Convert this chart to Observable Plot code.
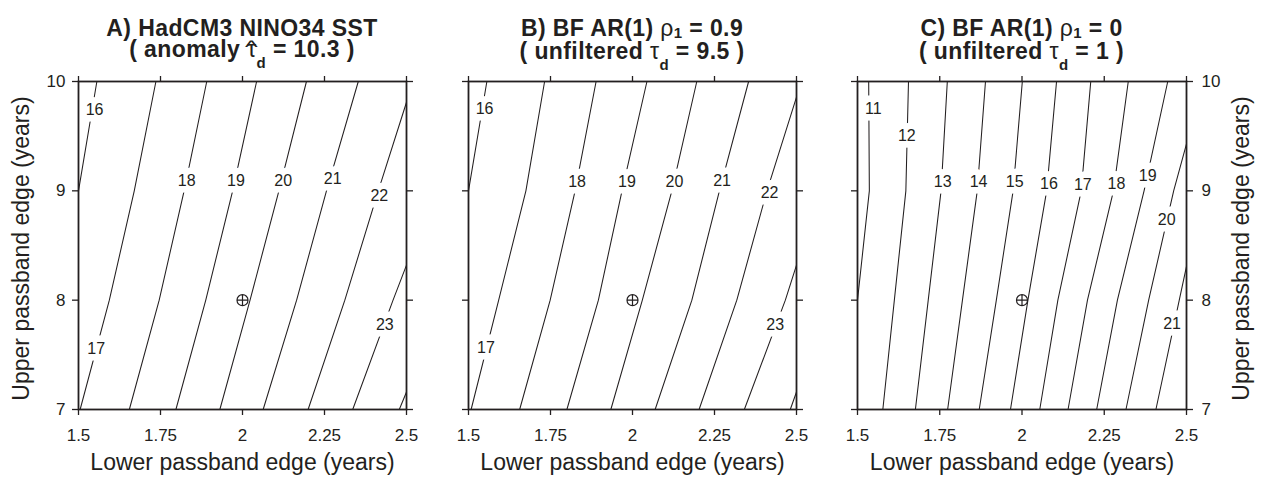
<!DOCTYPE html>
<html><head><meta charset="utf-8">
<script src="https://cdn.jsdelivr.net/npm/d3@7"></script>
<script src="https://cdn.jsdelivr.net/npm/@observablehq/plot@0.6"></script>
<style>
body{margin:0;background:#fff;}
#root{position:relative;width:1261px;height:478px;overflow:hidden;background:#fff;font-family:"Liberation Sans",Arial,sans-serif;color:#231f20;}
.panel{position:absolute;top:0;}
.title{position:absolute;top:17.5px;width:420px;text-align:center;font-weight:bold;font-size:23px;line-height:21px;letter-spacing:0.4px;white-space:nowrap;}
.g{font-weight:normal;}
.hatbox{position:relative;display:inline-block;}
.hatc{position:absolute;left:0;right:0;top:-1px;text-align:center;font-size:18px;line-height:18px;font-weight:normal;transform:scaleX(1.5);}
.sd{font-size:15px;position:relative;top:11px;}
.s1{font-size:15px;position:relative;top:2px;}
</style></head><body><div id="root"></div>
<script>
// ---------- data ----------
const xTicks = [1.5, 1.75, 2, 2.25, 2.5];
const xTickLabels = ["1.5", "1.75", "2", "2.25", "2.5"];
const yTicks = [7, 8, 9, 10];
const yTickLabels = ["7", "8", "9", "10"];
const xTitle = "Lower passband edge (years)";
const yTitle = "Upper passband edge (years)";
const markerX = [2];
const markerY = [8];

// Panel A: HadCM3 NINO34 SST — contour levels and their traced [x, y] points
const levelsA = [16, 17, 18, 19, 20, 21, 22, 23, 24];
const pathsA = [
  [[1.5, 9.0], [1.556, 10]],
  [[1.505, 7], [1.594, 8], [1.670, 9], [1.736, 10]],
  [[1.655, 7], [1.746, 8], [1.822, 9], [1.891, 10]],
  [[1.797, 7], [1.888, 8], [1.970, 9], [2.043, 10]],
  [[1.931, 7], [2.023, 8], [2.111, 9], [2.195, 10]],
  [[2.063, 7], [2.165, 8], [2.256, 9], [2.353, 10]],
  [[2.200, 7], [2.312, 8], [2.414, 9], [2.5, 9.81]],
  [[2.336, 7], [2.459, 8], [2.5, 8.32]],
  [[2.478, 7], [2.5, 7.16]]
];
const labelLevelsA = [16, 17, 18, 19, 20, 21, 22, 23];
const labelXA = [1.549, 1.554, 1.830, 1.980, 2.124, 2.275, 2.417, 2.434];
const labelYA = [9.74, 7.557, 9.089, 9.089, 9.089, 9.111, 8.958, 7.771];

// Panel B: BF AR(1) rho1 = 0.9
const levelsB = [16, 17, 18, 19, 20, 21, 22, 23, 24];
const pathsB = [
  [[1.5, 9.0], [1.556, 10]],
  [[1.508, 7], [1.592, 8], [1.675, 9], [1.732, 10]],
  [[1.656, 7], [1.749, 8], [1.825, 9], [1.889, 10]],
  [[1.800, 7], [1.896, 8], [1.968, 9], [2.044, 10]],
  [[1.934, 7], [2.030, 8], [2.120, 9], [2.196, 10]],
  [[2.069, 7], [2.181, 8], [2.265, 9], [2.354, 10]],
  [[2.203, 7], [2.318, 8], [2.410, 9], [2.5, 9.857]],
  [[2.341, 7], [2.466, 8], [2.5, 8.32]],
  [[2.481, 7], [2.5, 7.16]]
];
const labelLevelsB = [16, 17, 18, 19, 20, 21, 22, 23];
const labelXB = [1.549, 1.553, 1.831, 1.983, 2.128, 2.273, 2.418, 2.435];
const labelYB = [9.75, 7.56, 9.086, 9.086, 9.086, 9.09, 8.98, 7.777];

// Panel C: BF AR(1) rho1 = 0
const levelsC = [11, 12, 13, 14, 15, 16, 17, 18, 19, 20, 21];
const pathsC = [
  [[1.534, 10], [1.536, 9], [1.5, 8]],
  [[1.577, 7], [1.612, 8], [1.647, 9], [1.655, 10]],
  [[1.676, 7], [1.715, 8], [1.754, 9], [1.773, 10]],
  [[1.774, 7], [1.819, 8], [1.864, 9], [1.889, 10]],
  [[1.870, 7], [1.922, 8], [1.973, 9], [2.001, 10]],
  [[1.965, 7], [2.018, 8], [2.075, 9], [2.105, 10]],
  [[2.054, 7], [2.109, 8], [2.180, 9], [2.209, 10]],
  [[2.140, 7], [2.199, 8], [2.278, 9], [2.323, 10]],
  [[2.227, 7], [2.290, 8], [2.371, 9], [2.443, 10]],
  [[2.316, 7], [2.385, 8], [2.461, 9], [2.5, 9.43]],
  [[2.407, 7], [2.478, 8], [2.5, 8.31]]
];
const labelLevelsC = [11, 12, 13, 14, 15, 16, 17, 18, 19, 20, 21];
const labelXC = [1.548, 1.650, 1.759, 1.868, 1.978, 2.082, 2.185, 2.287, 2.382, 2.440, 2.456];
const labelYC = [9.75, 9.50, 9.086, 9.086, 9.086, 9.065, 9.05, 9.065, 9.134, 8.73, 7.785];

// ---------- drawing ----------
const ink = "#231f20";
const font = "'Liberation Sans', Arial, sans-serif";
const oplus = {
  draw(ctx, size) {
    const r = Math.sqrt(size / Math.PI);
    ctx.moveTo(r, 0); ctx.arc(0, 0, r, 0, 2 * Math.PI);
    ctx.moveTo(-r, 0); ctx.lineTo(r, 0);
    ctx.moveTo(0, -r); ctx.lineTo(0, r);
  }
};

function panel(cfg) {
  const rows = [];
  cfg.levels.forEach((lv, i) => cfg.paths[i].forEach(([x, y]) => rows.push({level: lv, x, y})));
  const labels = cfg.labelLevels.map((lv, i) => ({text: String(lv), x: cfg.labelX[i], y: cfg.labelY[i]}));
  const fmtX = d => xTickLabels[xTicks.indexOf(d)];
  const fmtY = d => yTickLabels[yTicks.indexOf(d)];
  const blank = () => "";
  const axisCommon = {tickSize: 6, strokeWidth: 1.3, fontSize: 17, label: null, stroke: ink};
  const marks = [
    Plot.line(rows, {x: "x", y: "y", z: "level", stroke: ink, strokeWidth: 1.05}),
    Plot.text(labels, {x: "x", y: "y", text: "text", fontSize: 16, fill: "white", stroke: "white", strokeWidth: 13, strokeLinejoin: "round"}),
    Plot.frame({stroke: ink, strokeWidth: 1.8}),
    Plot.axisX({...axisCommon, anchor: "bottom", ticks: xTicks, tickFormat: fmtX, tickPadding: 13}),
    Plot.axisX({...axisCommon, anchor: "top", ticks: xTicks, tickFormat: blank}),
    Plot.axisY({...axisCommon, anchor: "left", ticks: yTicks, tickFormat: cfg.yLabels === "left" ? fmtY : blank, tickPadding: 7}),
    Plot.axisY({...axisCommon, anchor: "right", ticks: yTicks, tickFormat: cfg.yLabels === "right" ? fmtY : blank, tickPadding: 9}),
    Plot.text(labels, {x: "x", y: "y", text: "text", fontSize: 16, fill: ink}),
    Plot.dot(markerX.map((x, i) => ({x, y: markerY[i]})), {x: "x", y: "y", r: 5.5, symbol: oplus, stroke: ink, fill: "none", strokeWidth: 1.2}),
    Plot.text([xTitle], {frameAnchor: "bottom", textAnchor: "middle", lineAnchor: "middle", dy: 53.6, fontSize: 23, fill: ink})
  ];
  if (cfg.yLabels === "left") marks.push(Plot.text([yTitle], {frameAnchor: "left", textAnchor: "middle", lineAnchor: "middle", rotate: -90, dx: -56.5, dy: 3, fontSize: 23, fill: ink}));
  if (cfg.yLabels === "right") marks.push(Plot.text([yTitle], {frameAnchor: "right", textAnchor: "middle", lineAnchor: "middle", rotate: -90, dx: 55, dy: 3, fontSize: 23, fill: ink}));
  const svg = Plot.plot({
    width: cfg.width, height: 478,
    marginTop: 81, marginBottom: 69, marginLeft: cfg.ml, marginRight: cfg.mr,
    x: {domain: [1.5, 2.5], nice: false},
    y: {domain: [7, 10], nice: false},
    style: {fontFamily: font, color: ink, background: "transparent", overflow: "visible"},
    marks
  });
  const wrap = document.createElement("div");
  wrap.className = "panel";
  wrap.style.left = cfg.left + "px";
  wrap.appendChild(svg);
  return wrap;
}

const root = document.getElementById("root");
root.appendChild(panel({left: 0, width: 420, ml: 78, mr: 14, levels: levelsA, paths: pathsA, labelLevels: labelLevelsA, labelX: labelXA, labelY: labelYA, yLabels: "left"}));
root.appendChild(panel({left: 420, width: 420, ml: 48, mr: 44, levels: levelsB, paths: pathsB, labelLevels: labelLevelsB, labelX: labelXB, labelY: labelYB, yLabels: "none"}));
root.appendChild(panel({left: 840, width: 421, ml: 17, mr: 75, levels: levelsC, paths: pathsC, labelLevels: labelLevelsC, labelX: labelXC, labelY: labelYC, yLabels: "right"}));

const titles = [
  {cx: 242, html: 'A) HadCM3 NINO34 SST<br>( anomaly <span class="g hatbox">τ<span class="hatc">^</span></span><span class="sd">d</span> = 10.3 )'},
  {cx: 632, html: 'B) BF AR(1) <span class="g">ρ</span><span class="s1">1</span> = 0.9<br>( unfiltered <span class="g">τ</span><span class="sd">d</span> = 9.5 )'},
  {cx: 1021.5, html: 'C) BF AR(1) <span class="g">ρ</span><span class="s1">1</span> = 0<br>( unfiltered <span class="g">τ</span><span class="sd">d</span> = 1 )'}
];
titles.forEach(t => {
  const d = document.createElement("div");
  d.className = "title";
  d.style.left = (t.cx - 210) + "px";
  d.innerHTML = t.html;
  root.appendChild(d);
});
</script></body></html>
